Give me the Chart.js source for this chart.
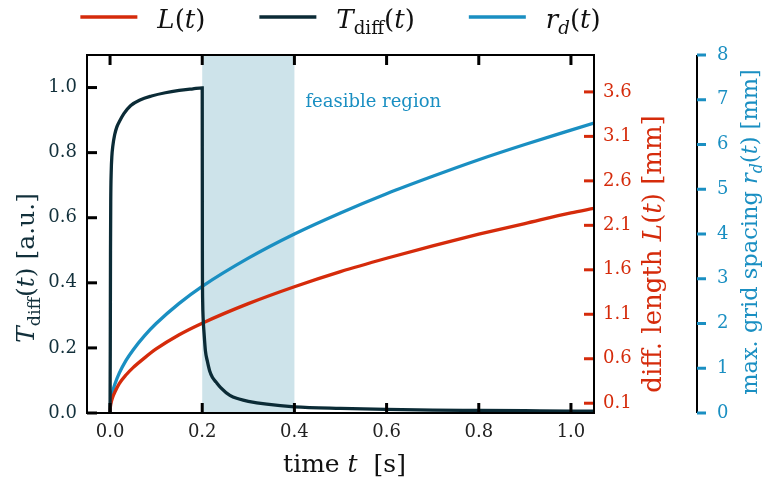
<!DOCTYPE html>
<html>
<head>
<meta charset="utf-8">
<script src="https://cdn.jsdelivr.net/npm/chart.js@4"></script>
<style>
  html, body { margin: 0; padding: 0; background: #fff; }
  #wrap { width: 765px; height: 483px; position: relative; }
</style>
</head>
<body>
<div id="wrap"><canvas id="myChart"></canvas></div>
<script>
const SERIF = "'DejaVu Serif', serif";
const RED = '#d52b0b';
const DARK = '#0b2b36';
const BLUE = '#1a8fc2';
const SHADE = '#cde3ea';

// diffusion transmission T_diff(t), source switched off at t = 0.2 s
const timeDiff = [0, 0.0005, 0.001, 0.0015, 0.0025, 0.004, 0.006, 0.01, 0.015, 0.02, 0.03, 0.045, 0.065, 0.09, 0.12, 0.15, 0.18, 0.2,
                  0.2003, 0.201, 0.202, 0.204, 0.207, 0.211, 0.216, 0.222, 0.23, 0.24, 0.26, 0.28, 0.3, 0.34, 0.4, 0.5, 0.6, 0.7, 0.8, 0.9, 1.0, 1.05];
const transDiff = [0, 0.2, 0.5, 0.65, 0.74, 0.79, 0.82, 0.855, 0.88, 0.895, 0.92, 0.945, 0.962, 0.974, 0.984, 0.991, 0.996, 0.999,
                   0.5, 0.34, 0.29, 0.245, 0.19, 0.16, 0.13, 0.11, 0.095, 0.078, 0.054, 0.043, 0.036, 0.027, 0.019, 0.014, 0.011, 0.009, 0.008, 0.007, 0.006, 0.006];

// diffusion length L(t) and max. grid spacing r_d(t), both in mm
const timeGrowth = [0, 0.001, 0.003, 0.006, 0.01, 0.02, 0.035, 0.05, 0.075, 0.1, 0.15, 0.2, 0.3, 0.4, 0.5, 0.6, 0.7, 0.8, 0.9, 1.0, 1.05];
const diffLength = [0, 0.07, 0.12, 0.17, 0.22, 0.32, 0.42, 0.5, 0.61, 0.71, 0.87, 1.0, 1.22, 1.41, 1.58, 1.73, 1.87, 2.0, 2.12, 2.24, 2.29];
const gridSpacing = [0, 0.2, 0.35, 0.49, 0.63, 0.89, 1.18, 1.41, 1.73, 2.0, 2.45, 2.83, 3.46, 4.0, 4.47, 4.9, 5.29, 5.66, 6.0, 6.32, 6.48];

const feasible = [0.2, 0.4];
const xTicks = [0, 0.2, 0.4, 0.6, 0.8, 1.0];
const tTicks = [0, 0.2, 0.4, 0.6, 0.8, 1.0];
const lTicks = [0.1, 0.6, 1.1, 1.6, 2.1, 2.6, 3.1, 3.6];
const rTicks = [0, 1, 2, 3, 4, 5, 6, 7, 8];

function font(size, italic) {
    return (italic ? 'italic ' : '') + size + 'px ' + SERIF;
}

// text made of upright / italic / subscript pieces
function richWidth(ctx, parts, size) {
    let w = 0;
    for (const p of parts) {
        ctx.font = font(p.sub ? size * 0.7 : size, p.it);
        w += ctx.measureText(p.t).width;
    }
    return w;
}

function drawRich(ctx, parts, x, y, size, color, align) {
    let cx = align === 'center' ? x - richWidth(ctx, parts, size) / 2 : x;
    ctx.fillStyle = color;
    ctx.textAlign = 'left';
    ctx.textBaseline = 'alphabetic';
    for (const p of parts) {
        ctx.font = font(p.sub ? size * 0.7 : size, p.it);
        ctx.fillText(p.t, cx, y + (p.sub ? size * 0.22 : 0));
        cx += ctx.measureText(p.t).width;
    }
}

function drawRotated(ctx, parts, x, y, size, color) {
    ctx.save();
    ctx.translate(x, y);
    ctx.rotate(-Math.PI / 2);
    drawRich(ctx, parts, 0, 0, size, color, 'center');
    ctx.restore();
}

function seg(ctx, x1, y1, x2, y2, color, w) {
    ctx.beginPath();
    ctx.moveTo(x1, y1);
    ctx.lineTo(x2, y2);
    ctx.strokeStyle = color;
    ctx.lineWidth = w;
    ctx.lineCap = 'butt';
    ctx.stroke();
}

const T_PARTS = [{ t: 'T', it: true }, { t: 'diff', sub: true }, { t: '(' }, { t: 't', it: true }, { t: ')' }];
const L_PARTS = [{ t: 'L', it: true }, { t: '(' }, { t: 't', it: true }, { t: ')' }];
const R_PARTS = [{ t: 'r', it: true }, { t: 'd', it: true, sub: true }, { t: '(' }, { t: 't', it: true }, { t: ')' }];

const decorations = {
    id: 'decorations',
    beforeDatasetsDraw(chart) {
        const { ctx, chartArea: a, scales } = chart;
        const x0 = scales.x.getPixelForValue(feasible[0]);
        const x1 = scales.x.getPixelForValue(feasible[1]);
        ctx.save();
        ctx.fillStyle = SHADE;
        ctx.fillRect(x0, a.top, x1 - x0, a.bottom - a.top);
        ctx.restore();
    },
    afterDraw(chart) {
        const { ctx, chartArea: a, scales } = chart;
        ctx.save();

        // ticks pointing into the plot
        const TL = 10, TW = 3;
        xTicks.forEach(v => {
            const px = scales.x.getPixelForValue(v);
            seg(ctx, px, a.bottom, px, a.bottom - TL, '#000', TW);
            seg(ctx, px, a.top, px, a.top + TL, '#000', TW);
        });
        tTicks.forEach(v => {
            const py = scales.y.getPixelForValue(v);
            seg(ctx, a.left, py, a.left + TL, py, '#000', TW);
        });
        lTicks.forEach(v => {
            const py = scales.yL.getPixelForValue(v);
            seg(ctx, a.right, py, a.right - TL, py, RED, TW);
        });

        // frame
        ctx.strokeStyle = '#000';
        ctx.lineWidth = 2;
        ctx.strokeRect(a.left, a.top, a.right - a.left, a.bottom - a.top);

        // offset spine for r_d
        const sx = scales.yR.left;
        seg(ctx, sx, a.top, sx, a.bottom, '#000', 2);
        rTicks.forEach(v => {
            const py = scales.yR.getPixelForValue(v);
            seg(ctx, sx, py, sx + 9, py, BLUE, TW);
        });

        // axis titles
        drawRotated(ctx, T_PARTS.concat([{ t: ' [a.u.]' }]), 34, 268, 25, '#12303b');
        drawRotated(ctx, [{ t: 'diff. length ' }].concat(L_PARTS, [{ t: ' [mm]' }]), 661, 254, 26, RED);
        drawRotated(ctx, [{ t: 'max. grid spacing ' }].concat(R_PARTS, [{ t: ' [mm]' }]), 757, 232, 22.5, BLUE);
        drawRich(ctx, [{ t: 'time ' }, { t: 't', it: true }, { t: '  [s]' }], (a.left + a.right) / 2 + 4, 472, 25, '#111', 'center');

        // annotation for the shaded band
        ctx.font = font(18, false);
        ctx.fillStyle = BLUE;
        ctx.textAlign = 'left';
        ctx.textBaseline = 'alphabetic';
        ctx.fillText('feasible region', scales.x.getPixelForValue(feasible[1]) + 11, a.top + 52);

        // legend row above the plot
        const items = [[RED, L_PARTS], [DARK, T_PARTS], [BLUE, R_PARTS]];
        const HANDLE = 57, GAP = 20, COL = 54, SIZE = 26;
        let total = 0;
        items.forEach(([, parts], i) => {
            total += HANDLE + GAP + richWidth(ctx, parts, SIZE) + (i < items.length - 1 ? COL : 0);
        });
        let lx = (a.left + a.right) / 2 - total / 2;
        items.forEach(([color, parts]) => {
            seg(ctx, lx, 17, lx + HANDLE, 17, color, 3.3);
            lx += HANDLE + GAP;
            drawRich(ctx, parts, lx, 28, SIZE, '#111', 'left');
            lx += richWidth(ctx, parts, SIZE) + COL;
        });

        ctx.restore();
    }
};

const tickFont = { family: SERIF, size: 18 };
const setTicks = list => scale => { scale.ticks = list.map(v => ({ value: v })); };

const ctx = document.getElementById('myChart').getContext('2d');
const chart = new Chart(ctx, {
    type: 'line',
    data: {
        datasets: [
            {
                label: 'T_diff(t)',
                data: timeDiff.map((t, i) => ({ x: t, y: transDiff[i] })),
                yAxisID: 'y',
                borderColor: DARK
            },
            {
                label: 'L(t)',
                data: timeGrowth.map((t, i) => ({ x: t, y: diffLength[i] })),
                yAxisID: 'yL',
                borderColor: RED
            },
            {
                label: 'r_d(t)',
                data: timeGrowth.map((t, i) => ({ x: t, y: gridSpacing[i] })),
                yAxisID: 'yR',
                borderColor: BLUE
            }
        ]
    },
    options: {
        responsive: true,
        maintainAspectRatio: false,
        animation: false,
        layout: { padding: { top: 55, left: 0, right: 0, bottom: 0 } },
        elements: {
            point: { radius: 0 },
            line: { borderWidth: 3.3, cubicInterpolationMode: 'monotone', fill: false }
        },
        plugins: {
            legend: { display: false },
            tooltip: { enabled: false }
        },
        scales: {
            x: {
                type: 'linear',
                min: -0.05,
                max: 1.05,
                afterBuildTicks: setTicks(xTicks),
                afterFit: s => { s.height = 70; },
                grid: { display: false, drawTicks: false },
                border: { display: false },
                ticks: { padding: 9, color: '#222', font: tickFont, maxRotation: 0, autoSkip: false,
                         callback: v => Number(v).toFixed(1) }
            },
            y: {
                position: 'left',
                min: 0,
                max: 1.1,
                afterBuildTicks: setTicks(tTicks),
                afterFit: s => { s.width = 87; },
                grid: { display: false, drawTicks: false },
                border: { display: false },
                ticks: { padding: 10, color: '#12303b', font: tickFont, autoSkip: false,
                         callback: v => Number(v).toFixed(1) }
            },
            yL: {
                position: 'right',
                weight: 0,
                min: -0.01,
                max: 4.015,
                afterBuildTicks: setTicks(lTicks),
                afterFit: s => { s.width = 103; },
                grid: { display: false, drawTicks: false },
                border: { display: false },
                ticks: { padding: 9, color: RED, font: tickFont, autoSkip: false,
                         callback: v => Number(v).toFixed(1) }
            },
            yR: {
                position: 'right',
                weight: 1,
                min: 0,
                max: 8,
                afterBuildTicks: setTicks(rTicks),
                afterFit: s => { s.width = 68; },
                grid: { display: false, drawTicks: false },
                border: { display: false },
                ticks: { padding: 20, color: BLUE, font: tickFont, autoSkip: false,
                         callback: v => String(v) }
            }
        }
    },
    plugins: [decorations]
});
</script>
</body>
</html>
